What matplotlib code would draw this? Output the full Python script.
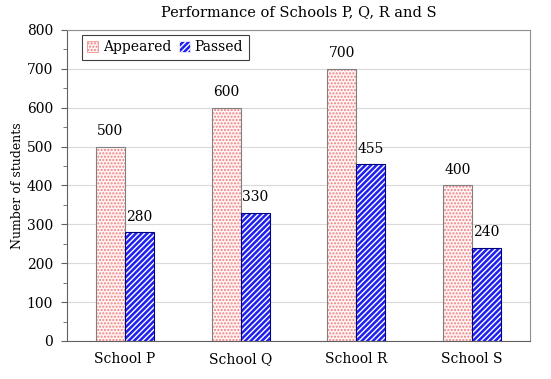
import matplotlib
matplotlib.use("Agg")
import matplotlib.pyplot as plt
import numpy as np
from matplotlib.patches import Patch

categories = ["School P", "School Q", "School R", "School S"]
appeared = [500, 600, 700, 400]
passed = [280, 330, 455, 240]

plt.rcParams['font.family'] = ['DejaVu Serif']
plt.rcParams['hatch.linewidth'] = 1.0

fig = plt.figure(figsize=(5.51, 3.79), dpi=100)
ax = fig.add_axes([0.1216, 0.1003, 0.8404, 0.8207])

x = np.arange(len(categories))
w = 0.25

# Appeared: pink dotted
ax.bar(x - w/2, appeared, w, facecolor='#fff4f4', edgecolor='#f08080', hatch='.....', linewidth=0, zorder=3)
ax.bar(x - w/2, appeared, w, facecolor='none', edgecolor='#808080', linewidth=0.8, zorder=4)
# Passed: blue with white diagonal hatch
ax.bar(x + w/2, passed, w, facecolor='#2020ee', edgecolor='white', hatch='//////', linewidth=0, zorder=3)
ax.bar(x + w/2, passed, w, facecolor='none', edgecolor='#000080', linewidth=0.8, zorder=4)

for i in range(len(categories)):
    ax.text(x[i] - w/2, appeared[i] + 22, str(appeared[i]), ha='center', va='bottom', fontsize=10)
    ax.text(x[i] + w/2, passed[i] + 22, str(passed[i]), ha='center', va='bottom', fontsize=10)

ax.set_xlim(-0.5, len(categories) - 0.5)
ax.set_ylim(0, 800)
ax.set_yticks(range(0, 801, 100))
ax.set_yticks(range(0, 801, 50), minor=True)
ax.set_xticks(x)
ax.set_xticklabels(categories, fontsize=10)
ax.tick_params(axis='y', labelsize=10, direction='out', length=4, color='#606060', pad=6)
ax.tick_params(axis='y', which='minor', direction='out', length=3, color='#606060')
ax.tick_params(axis='x', length=0, pad=8)
ax.yaxis.grid(True, color='#d9d9d9', linewidth=0.8, zorder=0)
ax.set_axisbelow(True)

for s in ['top', 'right']:
    ax.spines[s].set_color('#909090')
for s in ['left', 'bottom']:
    ax.spines[s].set_color('#606060')

ax.set_ylabel("Number of students", fontsize=9, labelpad=2)
ax.set_title("Performance of Schools P, Q, R and S", fontsize=10.5, pad=10)

handles = [
    Patch(facecolor='#fff4f4', edgecolor='#f08080', hatch='.....', linewidth=0.5),
    Patch(facecolor='#2020ee', edgecolor='white', hatch='//////', linewidth=0.5),
]
leg = ax.legend(handles, ["Appeared", "Passed"], loc='upper left', ncol=2, fontsize=10,
                fancybox=False, edgecolor='#404040', framealpha=1,
                handlelength=0.8, handleheight=0.8, handletextpad=0.3, columnspacing=0.6,
                bbox_to_anchor=(0.032, 0.984), borderpad=0.4, borderaxespad=0)
leg.get_frame().set_linewidth(0.8)

fig.savefig("out.png", dpi=100)
